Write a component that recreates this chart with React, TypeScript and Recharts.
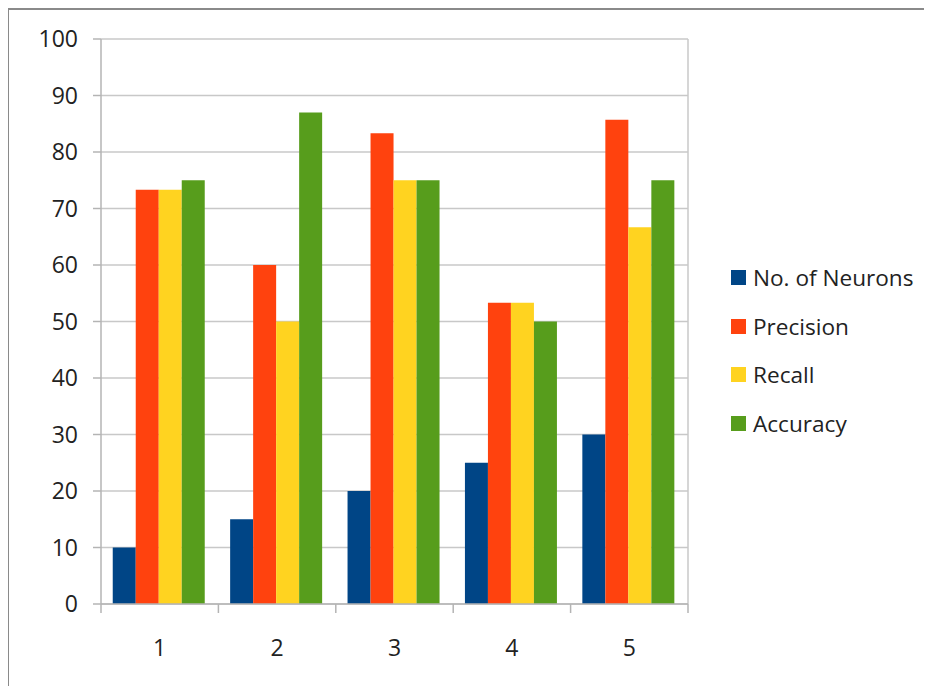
import React from 'react';
import { BarChart, Bar, XAxis, YAxis, CartesianGrid } from 'recharts';

// Experiment runs along the category axis
const runs = ['1', '2', '3', '4', '5'];

// Series values per run
const neurons = [10, 15, 20, 25, 30];
const precision = [73.3, 60, 83.3, 53.3, 85.7];
const recall = [73.3, 50, 75, 53.3, 66.7];
const accuracy = [75, 87, 75, 50, 75];

// Value axis ticks
const yTicks = [0, 10, 20, 30, 40, 50, 60, 70, 80, 90, 100];

const seriesKeys = ['neurons', 'precision', 'recall', 'accuracy'];
const seriesNames = ['No. of Neurons', 'Precision', 'Recall', 'Accuracy'];
const seriesColors = ['#004586', '#ff420e', '#ffd320', '#579d1c'];

const data = runs.map((run, i) => ({
  run,
  neurons: neurons[i],
  precision: precision[i],
  recall: recall[i],
  accuracy: accuracy[i],
}));

const FONT = '"Open Sans", sans-serif';
const AXIS_COLOR = '#b4b4b4';
const GRID_COLOR = '#c8c8c8';

// Category tick: marks sit on the band boundaries, label in the band centre
const XTick = (props: any) => {
  const { x, y, payload, index, visibleTicksCount, width } = props;
  const half =
    payload && typeof payload.offset === 'number' && payload.offset > 0
      ? payload.offset
      : width / visibleTicksCount / 2;
  const isLast = index === visibleTicksCount - 1;
  return (
    <g>
      <line x1={x - half} x2={x - half} y1={y} y2={y + 9} stroke={AXIS_COLOR} strokeWidth={1.5} />
      {isLast && (
        <line x1={x + half} x2={x + half} y1={y} y2={y + 9} stroke={AXIS_COLOR} strokeWidth={1.5} />
      )}
      <text
        x={x}
        y={y + 43}
        textAnchor="middle"
        dominantBaseline="central"
        fontSize={23}
        fontFamily={FONT}
        fill="#222"
      >
        {payload.value}
      </text>
    </g>
  );
};

// Series key to the right of the plot
const LegendBox = () => (
  <div
    style={{
      position: 'absolute',
      left: 731,
      top: 253,
      fontFamily: FONT,
      fontSize: 22.6,
      color: '#222',
    }}
  >
    {seriesNames.map((name, i) => (
      <div
        key={name}
        style={{ height: 48.7, display: 'flex', alignItems: 'center', whiteSpace: 'nowrap' }}
      >
        <span
          style={{
            display: 'inline-block',
            width: 15,
            height: 15,
            background: seriesColors[i],
            marginRight: 7,
          }}
        />
        <span>{name}</span>
      </div>
    ))}
  </div>
);

export default function App() {
  return (
    <div
      style={{
        position: 'relative',
        margin: '-8px 0 0 -8px',
        width: 932,
        height: 686,
        background: '#fff',
        overflow: 'hidden',
      }}
    >
      <div
        style={{
          position: 'absolute',
          left: 6,
          top: 8,
          width: 960,
          height: 720,
          borderTop: '2px solid #8a8a8a',
          borderLeft: '3px solid #8a8a8a',
          boxSizing: 'border-box',
        }}
      />
      <div style={{ position: 'absolute', left: 0, top: 0 }}>
        <BarChart
          width={932}
          height={686}
          data={data}
          margin={{ top: 39, right: 244, bottom: 32, left: 0 }}
          barCategoryGap="10%"
          barGap={0}
        >
          <CartesianGrid
            stroke={GRID_COLOR}
            strokeWidth={1.5}
            vertical={true}
            verticalCoordinatesGenerator={(p: any) => {
              const o = p.offset;
              return [o.left + o.width];
            }}
          />
          <XAxis
            dataKey="run"
            height={50}
            tickLine={false}
            tickSize={0}
            tickMargin={0}
            axisLine={{ stroke: AXIS_COLOR, strokeWidth: 1.5 }}
            tick={<XTick />}
            interval={0}
          />
          <YAxis
            width={101}
            domain={[0, 100]}
            ticks={yTicks}
            interval={0}
            tickSize={8}
            tickMargin={15}
            axisLine={{ stroke: AXIS_COLOR, strokeWidth: 1.5 }}
            tickLine={{ stroke: AXIS_COLOR, strokeWidth: 1.5 }}
            tick={{ fontSize: 23, fontFamily: FONT, fill: '#222' }}
          />
          {seriesKeys.map((k, i) => (
            <Bar
              key={k}
              dataKey={k}
              name={seriesNames[i]}
              fill={seriesColors[i]}
              isAnimationActive={false}
            />
          ))}
        </BarChart>
      </div>
      <LegendBox />
    </div>
  );
}
